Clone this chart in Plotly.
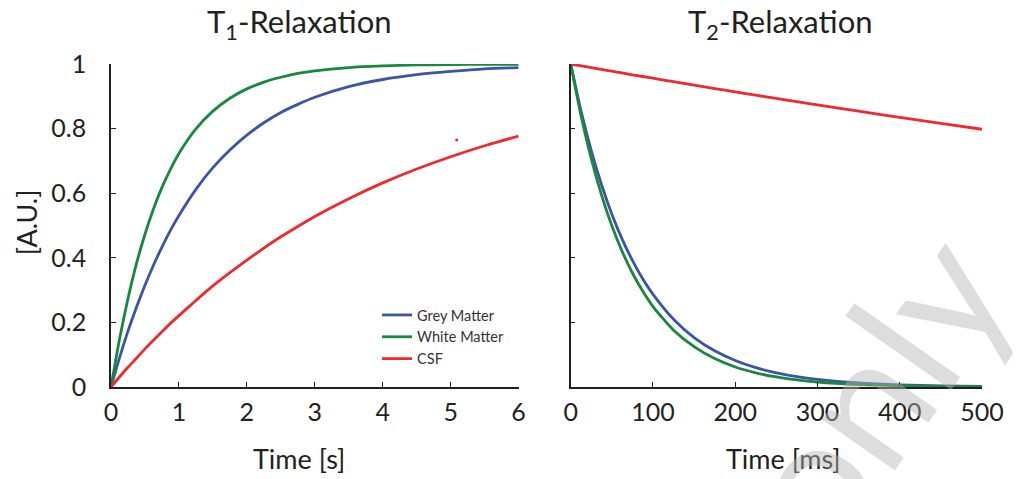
import plotly.graph_objects as go

# ---------------- data ----------------
t1_time_s = [0, 0.125, 0.25, 0.375, 0.5, 0.625, 0.75, 0.875, 1, 1.25, 1.5, 1.75, 2, 2.25, 2.5, 2.75, 3,
             3.5, 4, 4.5, 5, 5.5, 6]
t1_grey = [0, 0.090, 0.173, 0.247, 0.315, 0.377, 0.433, 0.485, 0.531, 0.612, 0.679, 0.734, 0.780, 0.818,
           0.850, 0.875, 0.897, 0.930, 0.952, 0.967, 0.977, 0.985, 0.989]
t1_white = [0, 0.148, 0.274, 0.382, 0.473, 0.551, 0.618, 0.674, 0.723, 0.799, 0.854, 0.894, 0.923, 0.944,
            0.959, 0.971, 0.979, 0.989, 0.994, 0.997, 0.998, 0.999, 0.999]
t1_csf = [0, 0.031, 0.061, 0.089, 0.118, 0.145, 0.171, 0.197, 0.221, 0.268, 0.313, 0.354, 0.393, 0.430,
          0.465, 0.497, 0.528, 0.583, 0.632, 0.675, 0.713, 0.747, 0.777]

t2_time_ms = [0, 12.5, 25, 37.5, 50, 62.5, 75, 87.5, 100, 125, 150, 175, 200, 225, 250, 275, 300,
              350, 400, 450, 500]
t2_grey = [1.0, 0.855, 0.732, 0.626, 0.535, 0.458, 0.392, 0.335, 0.287, 0.210, 0.153, 0.112, 0.082, 0.060,
           0.044, 0.032, 0.0235, 0.0126, 0.0067, 0.0036, 0.0019]
t2_white = [1.0, 0.841, 0.707, 0.594, 0.499, 0.420, 0.353, 0.297, 0.249, 0.176, 0.125, 0.088, 0.062, 0.044,
            0.031, 0.022, 0.0155, 0.0077, 0.0039, 0.0019, 0.001]
t2_csf = [1.0, 0.9944, 0.9888, 0.9832, 0.9777, 0.9722, 0.9667, 0.9613, 0.9559, 0.9451, 0.9345, 0.9240,
          0.9137, 0.9034, 0.8933, 0.8833, 0.8734, 0.8539, 0.8348, 0.8161, 0.7979]

stray_x = [5.09]
stray_y = [0.765]

series_names = ["Grey Matter", "White Matter", "CSF"]
y_tick_vals = [0, 0.2, 0.4, 0.6, 0.8, 1]
y_tick_text = ["0", "0.2", "0.4", "0.6", "0.8", "1"]
x1_tick_vals = [0, 1, 2, 3, 4, 5, 6]
x2_tick_vals = [0, 100, 200, 300, 400, 500]

# ---------------- style ----------------
BLUE = "#3B54A5"
GREEN = "#17893D"
RED = "#EE2A2E"
TXT = "#231F20"
FONT = "Lato"
LW = 2.8

W, H = 1016, 479
ML, MR, MT, MB = 111, 31, 64, 92
PW = W - ML - MR
PH = H - MT - MB


def px(x):
    return (x - ML) / PW


def py(y):
    return (H - MB - y) / PH


fig = go.Figure()

colors = [BLUE, GREEN, RED]
for name, ys, c in zip(series_names, [t1_grey, t1_white, t1_csf], colors):
    fig.add_trace(go.Scatter(x=t1_time_s, y=ys, mode="lines", name=name,
                             line=dict(color=c, width=LW, shape="spline", smoothing=0.6),
                             xaxis="x", yaxis="y"))
for name, ys, c in zip(series_names, [t2_grey, t2_white, t2_csf], colors):
    fig.add_trace(go.Scatter(x=t2_time_ms, y=ys, mode="lines", name=name, showlegend=False,
                             line=dict(color=c, width=LW, shape="spline", smoothing=0.6),
                             xaxis="x2", yaxis="y2"))
fig.add_trace(go.Scatter(x=stray_x, y=stray_y, mode="markers", showlegend=False,
                         marker=dict(color=RED, size=3), xaxis="x", yaxis="y"))

axis_common = dict(showgrid=False, zeroline=False, showline=True, linecolor=TXT, linewidth=1.5,
                   ticks="inside", ticklen=5, tickwidth=1.3, tickcolor=TXT,
                   tickfont=dict(family=FONT, size=25, color=TXT))

x1_end = px(520)
x2_start = px(572.3)

fig.update_layout(
    width=W, height=H,
    margin=dict(l=ML, r=MR, t=MT, b=MB, pad=0),
    paper_bgcolor="white", plot_bgcolor="white",
    font=dict(family=FONT, color=TXT),
    xaxis=dict(domain=[0, x1_end], range=[0, 6], tickvals=x1_tick_vals, anchor="y",
               ticklabelstandoff=2, **axis_common),
    yaxis=dict(domain=[0, 1], range=[0, 1], tickvals=y_tick_vals, ticktext=y_tick_text, anchor="x",
               ticklabelstandoff=18, **axis_common),
    xaxis2=dict(domain=[x2_start, 1], range=[0, 500], tickvals=x2_tick_vals, anchor="y2",
                ticklabelstandoff=2, **axis_common),
    yaxis2=dict(domain=[0, 1], range=[0, 1], tickvals=y_tick_vals, anchor="x2",
                showticklabels=False, **axis_common),
    showlegend=True,
    legend=dict(x=px(378), y=py(299), xanchor="left", yanchor="top",
                bgcolor="rgba(0,0,0,0)", borderwidth=0,
                font=dict(family=FONT, size=14.5, color="#333333"),
                tracegroupgap=0, itemwidth=30),
)

ann = []
ann.append(dict(text="T<sub>1</sub>-Relaxation", x=px(300), y=py(24), xref="paper", yref="paper",
                showarrow=False, xanchor="center", yanchor="middle",
                font=dict(family=FONT, size=31, color=TXT)))
ann.append(dict(text="T<sub>2</sub>-Relaxation", x=px(783), y=py(24), xref="paper", yref="paper",
                showarrow=False, xanchor="center", yanchor="middle",
                font=dict(family=FONT, size=31, color=TXT)))
ann.append(dict(text="Time [s]", x=px(300), y=py(458), xref="paper", yref="paper",
                showarrow=False, xanchor="center", yanchor="middle",
                font=dict(family=FONT, size=27, color=TXT)))
ann.append(dict(text="Time [ms]", x=px(786), y=py(458), xref="paper", yref="paper",
                showarrow=False, xanchor="center", yanchor="middle",
                font=dict(family=FONT, size=27, color=TXT)))
ann.append(dict(text="[A.U.]", x=px(26), y=py(222), xref="paper", yref="paper",
                showarrow=False, xanchor="center", yanchor="middle", textangle=-90,
                font=dict(family=FONT, size=27, color=TXT)))
# watermark
ann.append(dict(text="only", x=px(872), y=py(388), xref="paper", yref="paper",
                showarrow=False, xanchor="center", yanchor="middle", textangle=-55,
                font=dict(family=FONT, size=175, color="rgba(180,180,180,0.45)")))
fig.update_layout(annotations=ann)

fig.write_html("out.html")
